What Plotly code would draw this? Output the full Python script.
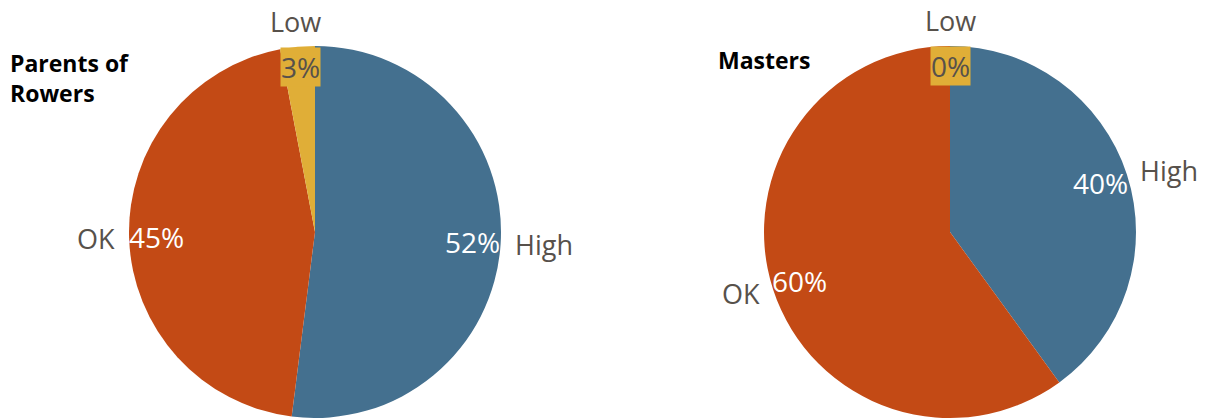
import math
import plotly.graph_objects as go

# ---- data ----
categories = ["High", "OK", "Low"]
parents_values = [52, 45, 3]
masters_values = [40, 60, 0]
chart_titles = ["Parents of<br>Rowers", "Masters"]

# ---- style ----
W, H = 1207, 418
COLORS = ["#44708F", "#C34A15", "#E0AE37"]
LABEL_GRAY = "#57514B"
FONT = "Open Sans"
R = 186
centers = [(315, 232), (950, 232)]
title_pos = [(8, 45), (716, 42)]

fig = go.Figure()
annotations = []

for (cx, cy), vals, title, (tx, ty) in zip(centers, [parents_values, masters_values], chart_titles, title_pos):
    fig.add_trace(go.Pie(
        labels=categories, values=vals, sort=False, direction="clockwise", rotation=0,
        marker=dict(colors=COLORS, line=dict(width=0)),
        textinfo="none", hoverinfo="label+percent", showlegend=False,
        domain=dict(x=[(cx - R) / W, (cx + R) / W], y=[1 - (cy + R) / H, 1 - (cy - R) / H]),
    ))
    total = sum(vals)
    cum = 0.0
    for cat, v, col in zip(categories, vals, COLORS):
        start = cum / total * 360
        cum += v
        end = cum / total * 360
        mid = math.radians((start + end) / 2)
        dx, dy = math.sin(mid), -math.cos(mid)
        pct = f"{round(v / total * 100)}%"
        # percentage label (inside end)
        rin = 0.85 * R
        px, py = cx + dx * rin, cy + dy * rin
        is_small = v / total < 0.05
        if is_small:
            py -= 8
        annotations.append(dict(
            x=px / W, y=1 - py / H, xref="paper", yref="paper", text=pct, showarrow=False,
            xanchor="center", yanchor="middle",
            font=dict(family=FONT, size=28, color=LABEL_GRAY if is_small else "white"),
            bgcolor=col if is_small else None, borderpad=0,
        ))
        # category label (outside)
        if dx > 0.3:
            xa, ya, rout = "left", "middle", R + 12
        elif dx < -0.3:
            xa, ya, rout = "right", "middle", R + 12
        else:
            xa, ya, rout = "center", "middle", R + 25
        ox, oy = cx + dx * rout, cy + dy * rout
        annotations.append(dict(
            x=ox / W, y=1 - oy / H, xref="paper", yref="paper", text=cat, showarrow=False,
            xanchor=xa, yanchor=ya, font=dict(family=FONT, size=27, color=LABEL_GRAY),
        ))
    annotations.append(dict(
        x=tx / W, y=1 - ty / H, xref="paper", yref="paper", text=f"<b>{title}</b>",
        showarrow=False, xanchor="left", yanchor="top", align="left",
        font=dict(family=FONT, size=23, color="black"),
    ))

fig.update_layout(
    width=W, height=H, margin=dict(l=0, r=0, t=0, b=0),
    paper_bgcolor="white", plot_bgcolor="white",
    annotations=annotations,
)
fig.write_html(
    "out.html",
    config={"displayModeBar": False},
    post_script="document.body.style.margin='0';document.body.style.overflow='hidden';",
)
